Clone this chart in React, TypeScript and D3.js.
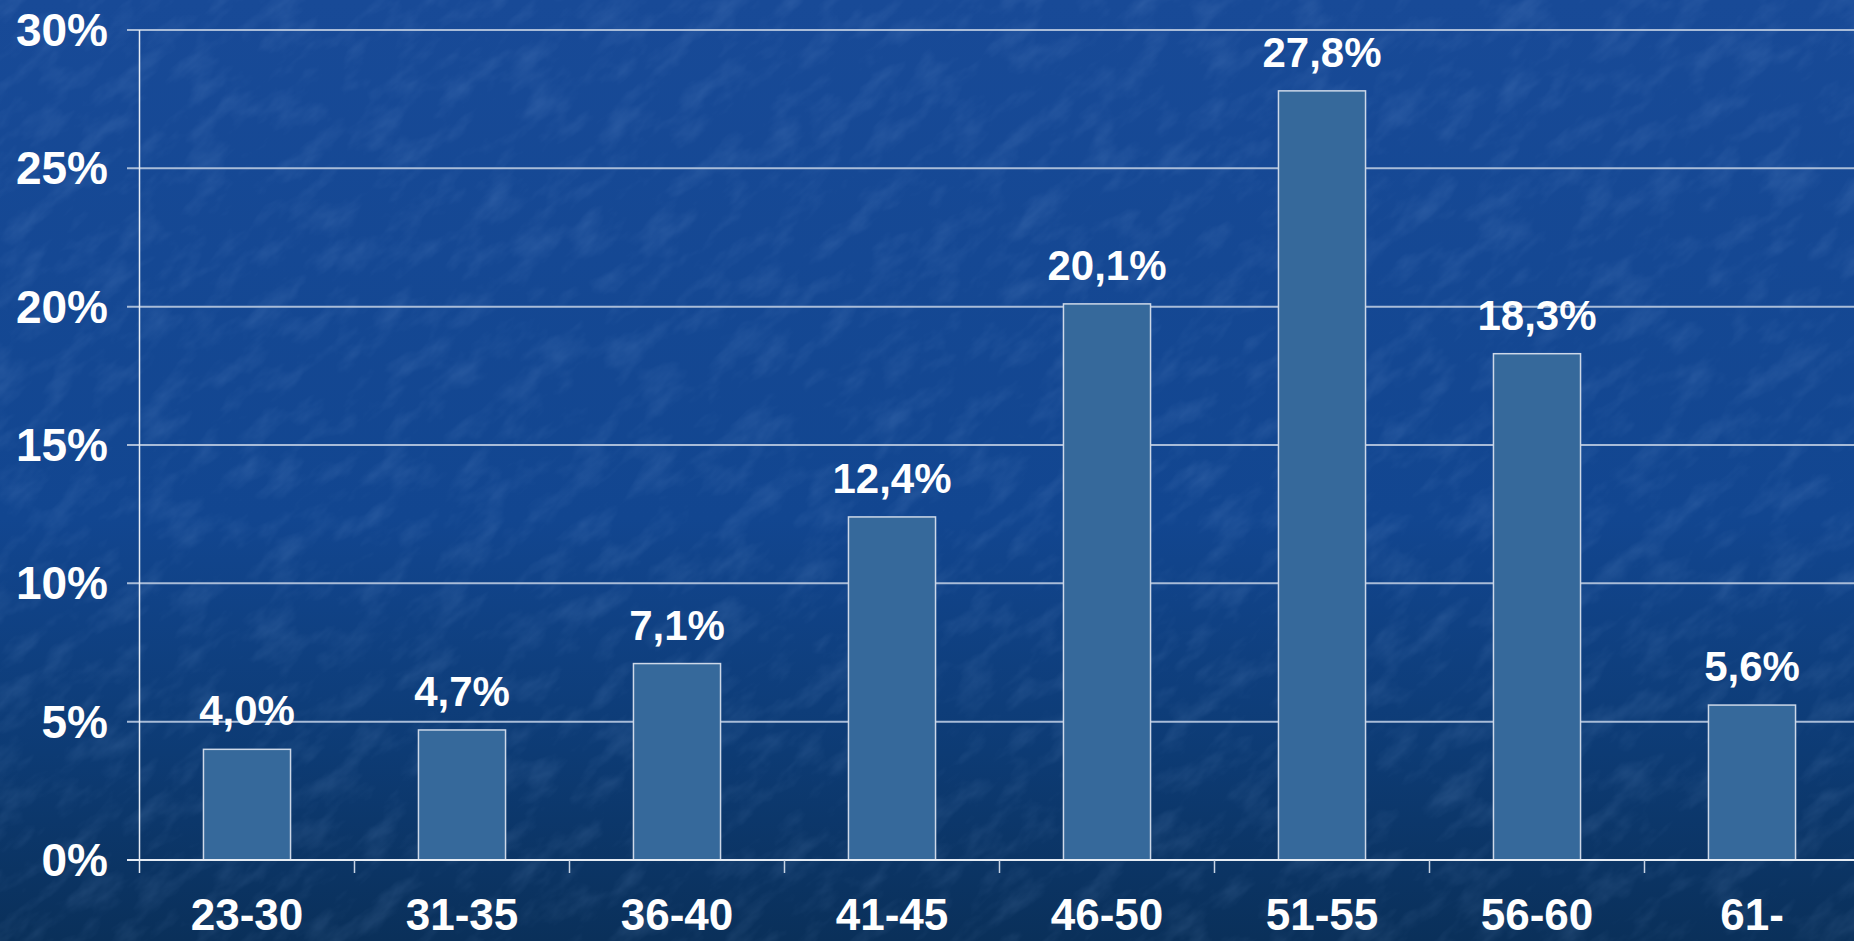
import React from "react";
import * as d3 from "d3";

const categories = ["23-30", "31-35", "36-40", "41-45", "46-50", "51-55", "56-60", "61-"];
const shares = [4.0, 4.7, 7.1, 12.4, 20.1, 27.8, 18.3, 5.6];
const valueLabels = ["4,0%", "4,7%", "7,1%", "12,4%", "20,1%", "27,8%", "18,3%", "5,6%"];
const yTicks = [0, 5, 10, 15, 20, 25, 30];

const W = 1854;
const H = 941;
const left = 139.5;
const top = 30;
const bottom = 860;
const bandW = 215;

const FONT = "'Liberation Sans', Arial, Helvetica, sans-serif";

const App = () => {
  const x = d3
    .scaleBand<string>()
    .domain(categories)
    .range([left, left + bandW * categories.length])
    .paddingInner(0.595)
    .paddingOuter(0.2975);
  const y = d3.scaleLinear().domain([0, 30]).range([bottom, top]);

  const bounds = categories.map((_, i) => left + i * bandW);

  return (
    <div style={{ position: "fixed", left: 0, top: 0, width: W, height: H, overflow: "hidden" }}>
      <svg width={W} height={H} style={{ display: "block" }}>
        <defs>
          <linearGradient id="bg" x1="0" y1="0" x2="0" y2="1">
            <stop offset="0" stopColor="#184a97" />
            <stop offset="0.55" stopColor="#124690" />
            <stop offset="0.8" stopColor="#0d3b74" />
            <stop offset="1" stopColor="#0a305a" />
          </linearGradient>
          <filter id="grain" x="0" y="0" width="100%" height="100%">
            <feTurbulence type="fractalNoise" baseFrequency="0.02 0.045" numOctaves="4" seed="11" />
            <feColorMatrix
              type="matrix"
              values="0 0 0 0 0.35  0 0 0 0 0.55  0 0 0 0 0.9  0 0 0 1.3 -0.6"
            />
          </filter>
        </defs>
        <rect width={W} height={H} fill="url(#bg)" />
        <g transform="rotate(-40 927 470)">
          <rect x={-400} y={-600} width={W + 800} height={H + 1200} filter="url(#grain)" opacity={0.22} />
        </g>

        {/* gridlines */}
        {yTicks.slice(1).map((t) => (
          <line key={t} x1={127} x2={W} y1={y(t)} y2={y(t)} stroke="#a9bcd8" strokeWidth={2} />
        ))}

        {/* bars */}
        {shares.map((v, i) => (
          <rect
            key={categories[i]}
            x={x(categories[i])}
            y={y(v)}
            width={x.bandwidth()}
            height={bottom - y(v)}
            fill="#36699b"
            stroke="#cdd8e8"
            strokeWidth={1.5}
          />
        ))}

        {/* axes */}
        <line x1={left} x2={left} y1={top} y2={873} stroke="#e6ecf4" strokeWidth={1.5} />
        <line x1={127} x2={W} y1={bottom} y2={bottom} stroke="#e6ecf4" strokeWidth={2} />
        {bounds.slice(1).map((b) => (
          <line key={b} x1={b} x2={b} y1={bottom} y2={873} stroke="#c8d4e4" strokeWidth={1.5} />
        ))}

        {/* y tick labels */}
        {yTicks.map((t) => (
          <text
            key={t}
            x={108}
            y={y(t) + 16}
            textAnchor="end"
            fill="#fff"
            fontFamily={FONT}
            fontWeight="bold"
            fontSize={46}
          >
            {t}%
          </text>
        ))}

        {/* value labels */}
        {shares.map((v, i) => (
          <text
            key={"v" + i}
            x={x(categories[i])! + x.bandwidth() / 2}
            y={y(v) - 24}
            textAnchor="middle"
            fill="#fff"
            fontFamily={FONT}
            fontWeight="bold"
            fontSize={42}
          >
            {valueLabels[i]}
          </text>
        ))}

        {/* category labels */}
        {categories.map((c) => (
          <text
            key={"c" + c}
            x={x(c)! + x.bandwidth() / 2}
            y={930}
            textAnchor="middle"
            fill="#fff"
            fontFamily={FONT}
            fontWeight="bold"
            fontSize={44}
          >
            {c}
          </text>
        ))}
      </svg>
    </div>
  );
};

export default App;
